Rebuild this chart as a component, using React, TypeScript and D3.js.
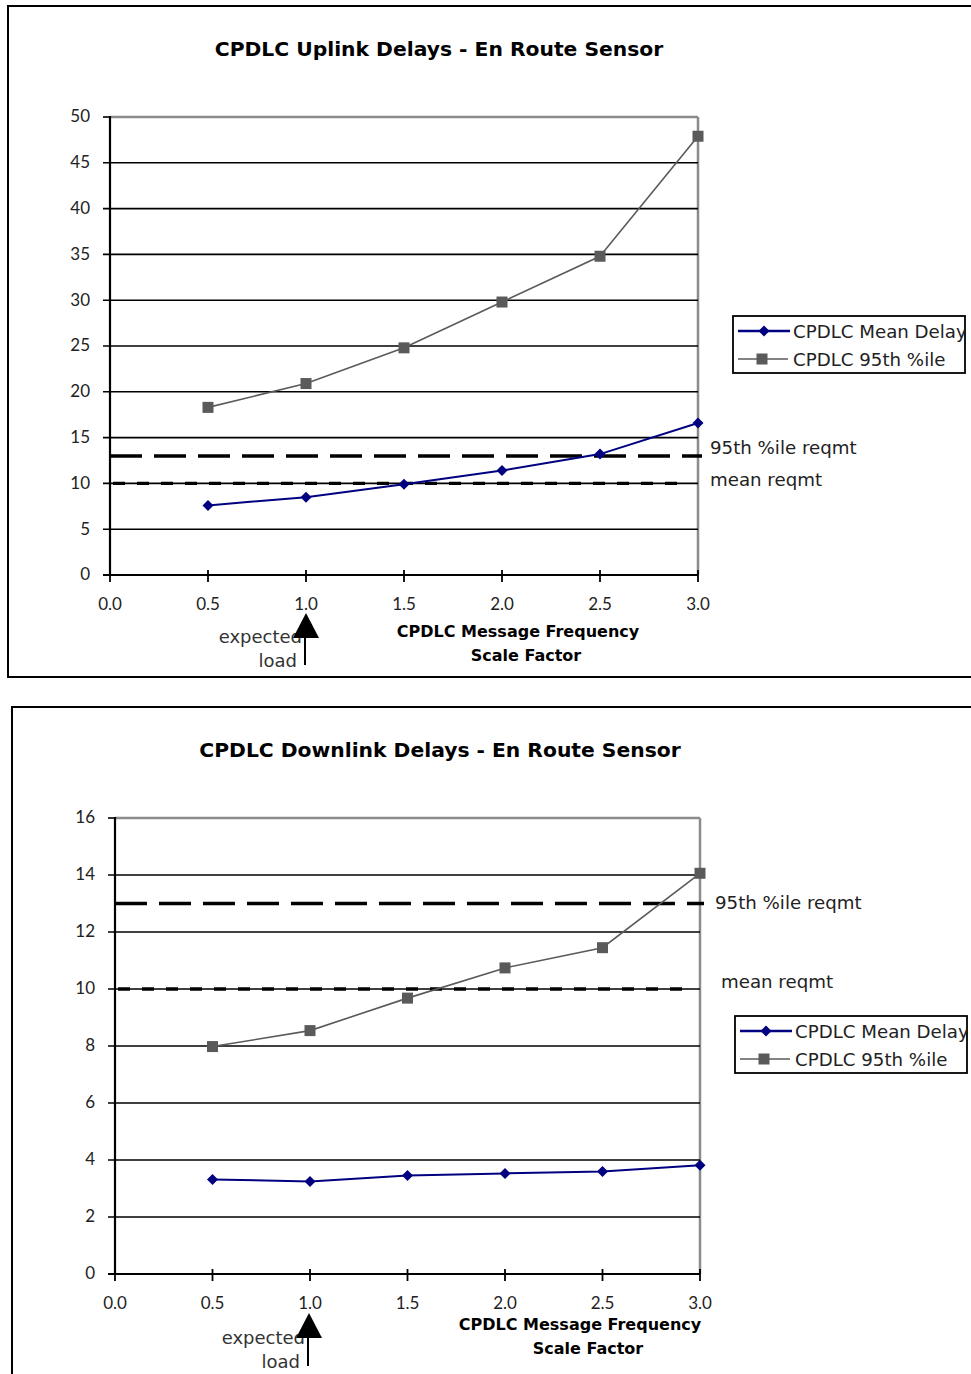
import React from "react";
import * as d3 from "d3";

// ---- Data ----
const xValues = [0.5, 1.0, 1.5, 2.0, 2.5, 3.0];
const xTicks = [0.0, 0.5, 1.0, 1.5, 2.0, 2.5, 3.0];

const uplinkMean = [7.6, 8.5, 9.9, 11.4, 13.2, 16.6];
const uplink95 = [18.3, 20.9, 24.8, 29.8, 34.8, 47.9];
const uplinkYTicks = [0, 5, 10, 15, 20, 25, 30, 35, 40, 45, 50];

const downlinkMean = [3.32, 3.25, 3.46, 3.53, 3.6, 3.82];
const downlink95 = [7.98, 8.54, 9.68, 10.74, 11.45, 14.06];
const downlinkYTicks = [0, 2, 4, 6, 8, 10, 12, 14, 16];

const reqmt95 = 13;
const reqmtMean = 10;

const seriesNames = ["CPDLC Mean Delay", "CPDLC 95th %ile"];
const reqmtLabels = ["95th %ile reqmt", "mean reqmt"];
const xTitleLines = ["CPDLC Message Frequency", "Scale Factor"];
const loadLabels = ["expected", "load"];

const NAVY = "#000080";
const GRAY = "#5a5a5a";
const FONT = "'DejaVu Sans', Lato, sans-serif";
const TICKFONT = "Lato, 'Open Sans', sans-serif";

type Cfg = {
  title: string;
  mean: number[];
  p95: number[];
  yTicks: number[];
  frame: { x: number; y: number; w: number; h: number };
  titleX: number;
  titleY: number;
  plot: { left: number; right: number; top: number; bottom: number };
  xTitle: { x1: number; x2: number; y1: number; y2: number };
  arrow: { x: number; tip: number; base: number; end: number };
  expected: { x: number; y1: number; y2: number };
  legend: { x: number; y: number; w: number; h: number };
  req95Label: { x: number; y: number };
  reqMeanLabel: { x: number; y: number };
  clipId: string;
};

function Chart({ c }: { c: Cfg }) {
  const { plot } = c;
  const yMax = c.yTicks[c.yTicks.length - 1];
  const x = d3.scaleLinear().domain([0, 3]).range([plot.left, plot.right]);
  const y = d3.scaleLinear().domain([0, yMax]).range([plot.bottom, plot.top]);
  const line = d3
    .line<number>()
    .x((_, i) => x(xValues[i]))
    .y((d) => y(d));
  const diamond = (cx: number, cy: number, r = 5.5) =>
    `M${cx},${cy - r}L${cx + r},${cy}L${cx},${cy + r}L${cx - r},${cy}Z`;
  const sq = 11;
  const lg = c.legend;
  return (
    <g>
      <defs>
        <clipPath id={c.clipId}>
          <rect x={lg.x} y={lg.y} width={lg.w} height={lg.h} />
        </clipPath>
      </defs>
      {/* outer frame */}
      <rect
        x={c.frame.x}
        y={c.frame.y}
        width={c.frame.w}
        height={c.frame.h}
        fill="white"
        stroke="black"
        strokeWidth={2}
      />
      <text
        x={c.titleX}
        y={c.titleY}
        textAnchor="middle"
        dominantBaseline="middle"
        fontFamily={FONT}
        fontWeight="bold"
        fontSize={20.3}
      >
        {c.title}
      </text>
      {/* plot borders (gray top & right) */}
      <line x1={plot.left} x2={plot.right} y1={plot.top} y2={plot.top} stroke="#8c8c8c" strokeWidth={2.5} />
      <line x1={plot.right} x2={plot.right} y1={plot.top} y2={plot.bottom} stroke="#8c8c8c" strokeWidth={2.5} />
      {/* gridlines */}
      {c.yTicks.map((t) => (
        <g key={t}>
          <line
            x1={plot.left - 7}
            x2={t === yMax ? plot.left : plot.right}
            y1={y(t)}
            y2={y(t)}
            stroke="black"
            strokeWidth={t === 0 ? 2 : 1.6}
          />
          <text
            x={plot.left - 20}
            y={y(t) + 1}
            textAnchor="end"
            dominantBaseline="middle"
            fontFamily={TICKFONT}
            fontSize={17}
            fill="#222"
          >
            {t}
          </text>
        </g>
      ))}
      {/* y axis */}
      <line x1={plot.left} x2={plot.left} y1={plot.top - 1} y2={plot.bottom + 1} stroke="black" strokeWidth={2.2} />
      {/* x ticks */}
      {xTicks.map((t) => (
        <g key={t}>
          <line x1={x(t)} x2={x(t)} y1={plot.bottom - 5} y2={plot.bottom + 7} stroke="black" strokeWidth={1.8} />
          <text
            x={x(t)}
            y={plot.bottom + 31}
            textAnchor="middle"
            dominantBaseline="middle"
            fontFamily={TICKFONT}
            fontSize={17}
            fill="#222"
          >
            {t.toFixed(1)}
          </text>
        </g>
      ))}
      {/* requirement lines */}
      <line
        x1={plot.left}
        x2={plot.right + 4}
        y1={y(reqmt95)}
        y2={y(reqmt95)}
        stroke="black"
        strokeWidth={3.5}
        strokeDasharray="32 12"
      />
      <line
        x1={plot.left + 3}
        x2={plot.right - 18}
        y1={y(reqmtMean)}
        y2={y(reqmtMean)}
        stroke="black"
        strokeWidth={3.4}
        strokeDasharray="12 12"
      />
      {/* series */}
      <path d={line(c.p95) || ""} fill="none" stroke={GRAY} strokeWidth={1.6} />
      {c.p95.map((v, i) => (
        <rect key={i} x={x(xValues[i]) - sq / 2} y={y(v) - sq / 2} width={sq} height={sq} fill={GRAY} />
      ))}
      <path d={line(c.mean) || ""} fill="none" stroke={NAVY} strokeWidth={2} />
      {c.mean.map((v, i) => (
        <path key={i} d={diamond(x(xValues[i]), y(v))} fill={NAVY} />
      ))}
      {/* requirement labels */}
      <text x={c.req95Label.x} y={c.req95Label.y} dominantBaseline="middle" fontFamily={FONT} fontSize={18.2} fill="#222">
        {reqmtLabels[0]}
      </text>
      <text x={c.reqMeanLabel.x} y={c.reqMeanLabel.y} dominantBaseline="middle" fontFamily={FONT} fontSize={18.2} fill="#222">
        {reqmtLabels[1]}
      </text>
      {/* x axis title */}
      <text x={c.xTitle.x1} y={c.xTitle.y1} textAnchor="middle" dominantBaseline="middle" fontFamily={FONT} fontWeight="bold" fontSize={16}>
        {xTitleLines[0]}
      </text>
      <text x={c.xTitle.x2} y={c.xTitle.y2} textAnchor="middle" dominantBaseline="middle" fontFamily={FONT} fontWeight="bold" fontSize={16}>
        {xTitleLines[1]}
      </text>
      {/* expected load */}
      <text x={c.expected.x} y={c.expected.y1} textAnchor="end" dominantBaseline="middle" fontFamily={FONT} fontSize={18} fill="#333">
        {loadLabels[0]}
      </text>
      <text x={c.expected.x - 5} y={c.expected.y2} textAnchor="end" dominantBaseline="middle" fontFamily={FONT} fontSize={18} fill="#333">
        {loadLabels[1]}
      </text>
      <path
        d={`M${c.arrow.x},${c.arrow.tip}L${c.arrow.x + 13},${c.arrow.base}L${c.arrow.x - 13},${c.arrow.base}Z`}
        fill="black"
      />
      <line x1={c.arrow.x - 1} x2={c.arrow.x - 1} y1={c.arrow.base} y2={c.arrow.end} stroke="black" strokeWidth={2} />
      {/* legend */}
      <rect x={lg.x} y={lg.y} width={lg.w} height={lg.h} fill="white" stroke="black" strokeWidth={1.8} />
      <g clipPath={`url(#${c.clipId})`}>
        <line x1={lg.x + 5} x2={lg.x + 57} y1={lg.y + 15} y2={lg.y + 15} stroke={NAVY} strokeWidth={2.5} />
        <path d={diamond(lg.x + 31, lg.y + 15)} fill={NAVY} />
        <text x={lg.x + 60} y={lg.y + 17} dominantBaseline="middle" fontFamily={FONT} fontSize={18.2} fill="#222">
          {seriesNames[0]}
        </text>
        <line x1={lg.x + 5} x2={lg.x + 55} y1={lg.y + 43} y2={lg.y + 43} stroke={GRAY} strokeWidth={1.6} />
        <rect x={lg.x + 29 - sq / 2} y={lg.y + 43 - sq / 2} width={sq} height={sq} fill={GRAY} />
        <text x={lg.x + 60} y={lg.y + 45} dominantBaseline="middle" fontFamily={FONT} fontSize={18.2} fill="#222">
          {seriesNames[1]}
        </text>
      </g>
    </g>
  );
}

const uplinkCfg: Cfg = {
  title: "CPDLC Uplink Delays - En Route Sensor",
  mean: uplinkMean,
  p95: uplink95,
  yTicks: uplinkYTicks,
  frame: { x: 8, y: 6, w: 1000, h: 671 },
  titleX: 439,
  titleY: 50,
  plot: { left: 110, right: 698, top: 117, bottom: 575 },
  xTitle: { x1: 518, x2: 526, y1: 632, y2: 656 },
  arrow: { x: 306, tip: 613, base: 638, end: 665 },
  expected: { x: 302, y1: 638, y2: 662 },
  legend: { x: 733, y: 316, w: 232, h: 57 },
  req95Label: { x: 710, y: 449 },
  reqMeanLabel: { x: 710, y: 481 },
  clipId: "lg1",
};

const downlinkCfg: Cfg = {
  title: "CPDLC Downlink Delays - En Route Sensor",
  mean: downlinkMean,
  p95: downlink95,
  yTicks: downlinkYTicks,
  frame: { x: 12, y: 707, w: 1000, h: 720 },
  titleX: 440,
  titleY: 751,
  plot: { left: 115, right: 700, top: 818, bottom: 1274 },
  xTitle: { x1: 580, x2: 588, y1: 1325, y2: 1349 },
  arrow: { x: 309, tip: 1313, base: 1338, end: 1366 },
  expected: { x: 305, y1: 1339, y2: 1363 },
  legend: { x: 735, y: 1016, w: 232, h: 57 },
  req95Label: { x: 715, y: 904 },
  reqMeanLabel: { x: 721, y: 983 },
  clipId: "lg2",
};

export default function App() {
  return (
    <svg
      width={971}
      height={1374}
      viewBox="0 0 971 1374"
      style={{ position: "absolute", left: 0, top: 0, background: "white" }}
    >
      <rect width={971} height={1374} fill="white" />
      <Chart c={uplinkCfg} />
      <Chart c={downlinkCfg} />
    </svg>
  );
}
